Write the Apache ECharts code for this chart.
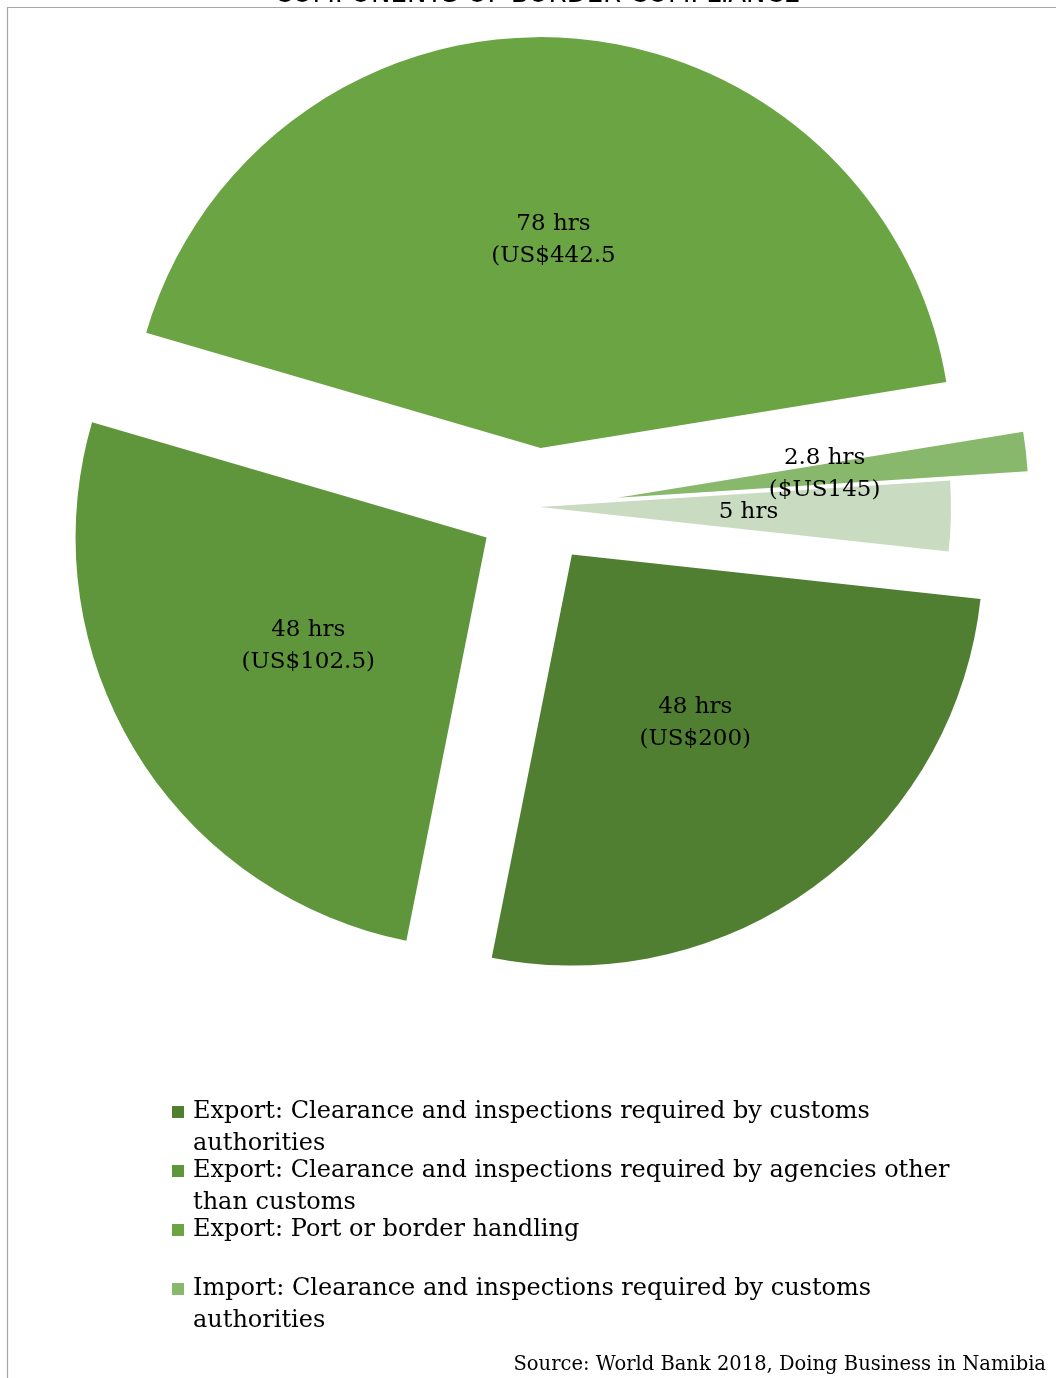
<!DOCTYPE html>
<html>
<head>
<meta charset="utf-8">
<script src="https://cdn.jsdelivr.net/npm/echarts@6/dist/echarts.min.js"></script>
<style>
html,body{margin:0;padding:0;background:#fff;}
#chart{width:1056px;height:1378px;}
</style>
</head>
<body>
<div id="chart"></div>
<script>
// ---- data ----
const categories = [
  'Export: Clearance and inspections required by customs authorities',
  'Export: Clearance and inspections required by agencies other than customs',
  'Export: Port or border handling',
  'Import: Clearance and inspections required by customs authorities',
  'Import: Port or border handling'
];
const hours = [48, 48, 78, 2.8, 5];
const costLabels = ['(US$200)', '(US$102.5)', '(US$442.5', '($US145)', ''];
const legendLabels = [
  'Export: Clearance and inspections required by customs\nauthorities',
  'Export: Clearance and inspections required by agencies other\nthan customs',
  'Export: Port or border handling\n ',
  'Import: Clearance and inspections required by customs\nauthorities'
];
const titleText = 'COMPONENTS OF BORDER COMPLIANCE';
const sourceText = 'Source: World Bank 2018, Doing Business in Namibia';

// ---- styles ----
const colors = ['#507f32', '#5f963b', '#6aa443', '#88b86b', '#c9dbc0'];
const explodeGroups = [
  { offset: 59, items: [0, 1, 2] },
  { offset: 81, items: [3] },
  { offset: 3, items: [4] }
];
const serif = "'DejaVu Serif', 'Liberation Serif', serif";

const chart = echarts.init(document.getElementById('chart'));

const series = explodeGroups.map(g => ({
  type: 'pie',
  center: [537, 507],
  radius: [0, 411],
  startAngle: -6.2,
  clockwise: true,
  selectedMode: 'multiple',
  selectedOffset: g.offset,
  avoidLabelOverlap: false,
  minShowLabelAngle: 0,
  animation: false,
  emphasis: { disabled: true },
  labelLine: { show: false },
  labelLayout: { hideOverlap: false },
  label: {
    show: true,
    position: 'inside',
    color: '#000',
    fontFamily: serif,
    fontSize: 23,
    lineHeight: 32,
    formatter: p => p.value + ' hrs' + (costLabels[p.dataIndex] ? '\n' + costLabels[p.dataIndex] : '')
  },
  data: categories.map((n, i) => {
    const on = g.items.indexOf(i) >= 0;
    return {
      name: n,
      value: hours[i],
      selected: on,
      itemStyle: { color: on ? colors[i] : 'rgba(0,0,0,0)' },
      label: { show: on }
    };
  })
}));

const option = {
  backgroundColor: '#fff',
  animation: false,
  legend: {
    orient: 'vertical',
    left: 172,
    top: 1096,
    padding: 0,
    itemGap: -5,
    itemWidth: 16,
    itemHeight: 64,
    icon: 'path://M0,10h12v12h-12z M0,0h0.01v0.01h-0.01z M16,64h0.01v0.01h-0.01z',
    symbolKeepAspect: false,
    selectedMode: false,
    textStyle: { fontFamily: serif, fontSize: 24, lineHeight: 32, color: '#000' },
    formatter: name => legendLabels[categories.indexOf(name)],
    data: legendLabels.map((t, i) => ({ name: categories[i], itemStyle: { color: colors[i] } }))
  },
  graphic: [
    {
      type: 'rect', silent: true, z: -1,
      shape: { x: 7.5, y: 7.5, width: 1200, height: 1500 },
      style: { fill: 'none', stroke: '#a6a6a6', lineWidth: 1.2 }
    },
    {
      type: 'text', silent: true,
      x: 537, y: 8,
      style: {
        text: titleText, textAlign: 'center', textVerticalAlign: 'bottom',
        font: "26px 'DejaVu Sans', sans-serif", fill: '#000'
      }
    },
    {
      type: 'text', silent: true,
      x: 1046, y: 1365,
      style: {
        text: sourceText, textAlign: 'right', textVerticalAlign: 'middle',
        font: "19.5px " + serif, fill: '#000'
      }
    }
  ],
  series: series
};
chart.setOption(option);
</script>
</body>
</html>
